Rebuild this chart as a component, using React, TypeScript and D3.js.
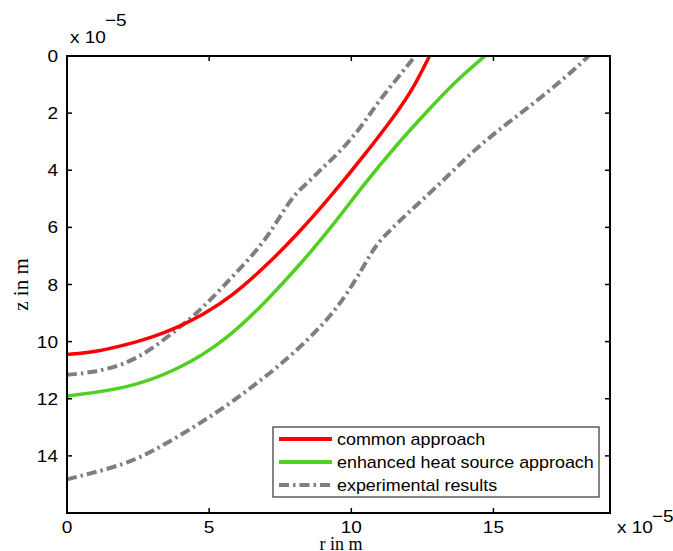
import React from 'react';
import * as d3 from 'd3';

// r values in 1e-5 m, z values in 1e-5 m
const commonR = [0, 1, 2.1, 3.0, 3.9, 4.8, 5.75, 6.9, 8.1, 9.25, 10.4, 11.6, 12.2, 12.75];
const commonZ = [10.45, 10.37, 10.1, 9.85, 9.5, 9.05, 8.45, 7.45, 6.25, 4.95, 3.55, 2.0, 1.1, 0];

const enhancedR = [0, 2.1, 3.9, 5.6, 7.05, 8.2, 9.3, 10.4, 11.6, 12.75, 13.7, 14.7];
const enhancedZ = [11.9, 11.65, 11.0, 9.95, 8.55, 7.3, 6.0, 4.55, 3.1, 1.85, 0.85, 0];

const expInnerR = [0, 0.93, 2.1, 3.0, 3.9, 4.45, 5.04, 5.86, 6.91, 7.62, 8.03, 8.56, 9.02, 9.49, 10.32, 10.9, 11.6, 12.25];
const expInnerZ = [11.16, 11.08, 10.78, 10.25, 9.55, 9.1, 8.55, 7.68, 6.57, 5.4, 4.82, 4.35, 3.88, 3.47, 2.54, 1.66, 0.8, 0];

const expOuterR = [0, 2.1, 3.27, 4.45, 5.62, 6.8, 7.97, 9.38, 10.14, 10.55, 10.9, 11.37, 11.96, 13.13, 14.3, 15.48, 16.65, 17.83, 18.35];
const expOuterZ = [14.82, 14.3, 13.7, 13.0, 12.25, 11.37, 10.43, 9.03, 7.86, 7.16, 6.57, 6.1, 5.52, 4.47, 3.3, 2.36, 1.48, 0.49, 0];

const xTicks = [0, 5, 10, 15];
const yTicks = [0, 2, 4, 6, 8, 10, 12, 14];

const legendLabels = ['common approach', 'enhanced heat source approach', 'experimental results'];

const W = 673;
const H = 551;
const plot = { left: 67, right: 610, top: 56, bottom: 513 };

const RED = '#ff0000';
const GREEN = '#50d020';
const GRAY = '#7f7f7f';
const DASHDOT = '10,4,2.5,4';
const SANS = '"Liberation Sans", Arial, Helvetica, sans-serif';
const SERIF = '"Liberation Serif", "Times New Roman", serif';
const SX = 1.12; // the source text is a little wider than Liberation Sans

// text with a horizontal stretch
const Txt = ({ x, y, size, anchor = 'start', dy, children }: any) => (
    <text transform={`translate(${x},${y}) scale(${SX},1)`} fontSize={size} textAnchor={anchor} dy={dy}
        fontFamily={SANS}>{children}</text>
);

const App = () => {
    const x = d3.scaleLinear().domain([0, 19.1]).range([plot.left, plot.right]);
    const y = d3.scaleLinear().domain([0, 16]).range([plot.top, plot.bottom]);

    const line = d3.line<[number, number]>()
        .x(d => x(d[0]))
        .y(d => y(d[1]))
        .curve(d3.curveBasis);

    const zip = (a: number[], b: number[]) => a.map((v, i) => [v, b[i]] as [number, number]);

    const series = [
        { pts: zip(expInnerR, expInnerZ), color: GRAY, dash: DASHDOT, w: 4 },
        { pts: zip(expOuterR, expOuterZ), color: GRAY, dash: DASHDOT, w: 4 },
        { pts: zip(enhancedR, enhancedZ), color: GREEN, dash: null, w: 3.5 },
        { pts: zip(commonR, commonZ), color: RED, dash: null, w: 3.5 },
    ];

    const legendStyles = [
        { color: RED, dash: null, w: 4 },
        { color: GREEN, dash: null, w: 4 },
        { color: GRAY, dash: DASHDOT, w: 4 },
    ];

    const tick = 5;

    return (
        <svg width={W} height={H} style={{ position: 'fixed', left: 0, top: 0, background: '#fff' }}>
            <defs>
                <clipPath id="plotClip">
                    <rect x={plot.left} y={plot.top} width={plot.right - plot.left} height={plot.bottom - plot.top} />
                </clipPath>
            </defs>

            <g clipPath="url(#plotClip)">
                {series.map((s, i) => (
                    <path key={i} d={line(s.pts) || ''} fill="none" stroke={s.color}
                        strokeWidth={s.w} strokeDasharray={s.dash || undefined} />
                ))}
            </g>

            {/* box and ticks */}
            <rect x={plot.left} y={plot.top} width={plot.right - plot.left} height={plot.bottom - plot.top}
                fill="none" stroke="#000" strokeWidth={2} />
            {xTicks.map(t => (
                <g key={'x' + t}>
                    <line x1={x(t)} x2={x(t)} y1={plot.bottom} y2={plot.bottom - tick} stroke="#000" strokeWidth={1.5} />
                    <line x1={x(t)} x2={x(t)} y1={plot.top} y2={plot.top + tick} stroke="#000" strokeWidth={1.5} />
                    <Txt x={x(t)} y={533} size={17} anchor="middle">{t}</Txt>
                </g>
            ))}
            {yTicks.map(t => (
                <g key={'y' + t}>
                    <line x1={plot.left} x2={plot.left + tick} y1={y(t)} y2={y(t)} stroke="#000" strokeWidth={1.5} />
                    <line x1={plot.right} x2={plot.right - tick} y1={y(t)} y2={y(t)} stroke="#000" strokeWidth={1.5} />
                    <Txt x={plot.left - 9} y={y(t)} dy="0.36em" size={17} anchor="end">{t}</Txt>
                </g>
            ))}

            {/* exponent labels */}
            <Txt x={70} y={43} size={17}>x 10</Txt>
            <Txt x={105} y={26} size={17}>−5</Txt>
            <Txt x={617} y={533} size={17}>x 10</Txt>
            <Txt x={652} y={522} size={17}>−5</Txt>

            {/* axis titles */}
            <text x={341} y={550} textAnchor="middle" fontSize={18} fontFamily={SERIF}>r in m</text>
            <text transform={`translate(28,${(plot.top + plot.bottom) / 2}) rotate(-90)`} textAnchor="middle"
                fontSize={21} fontFamily={SERIF}>z in m</text>

            {/* legend */}
            <g>
                <rect x={273} y={427} width={326} height={70} fill="#fff" stroke="#333" strokeWidth={1.2} />
                {legendLabels.map((lab, i) => {
                    const ly = 439 + i * 23;
                    const st = legendStyles[i];
                    return (
                        <g key={lab}>
                            <line x1={279} x2={332} y1={ly} y2={ly} stroke={st.color} strokeWidth={st.w}
                                strokeDasharray={st.dash || undefined} />
                            <Txt x={337} y={ly} dy="0.36em" size={16}>{lab}</Txt>
                        </g>
                    );
                })}
            </g>
        </svg>
    );
};

export default App;
